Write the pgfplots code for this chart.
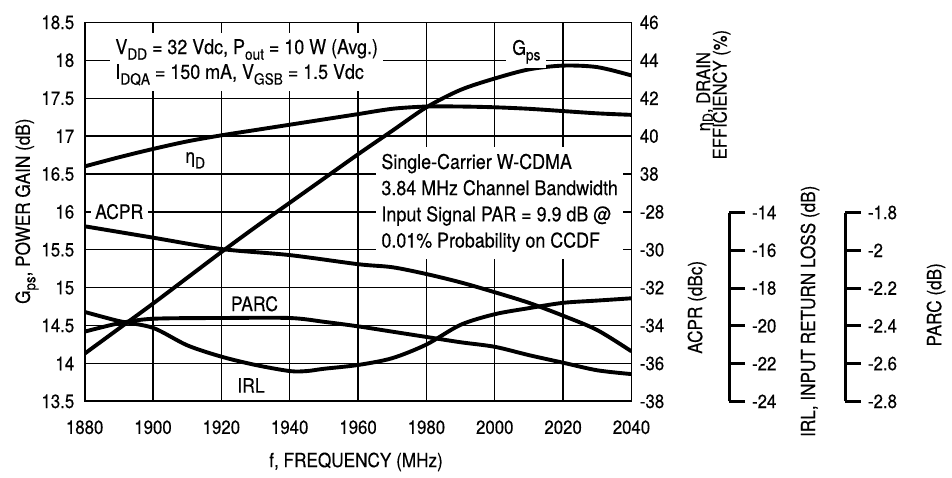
\documentclass[border=0pt]{standalone}
\usepackage{fontspec}
\setmainfont[FakeStretch=0.88, FakeBold=0.3]{TeX Gyre Heros}
\usepackage{pgfplots}
\pgfplotsset{compat=1.18}

\newcommand\lab{\fontsize{9.8}{11}\selectfont}
\newcommand\tks{\fontsize{9.6}{11}\selectfont}
% larger, lower subscripts than \textsubscript
\newcommand\sub[2][7.8]{\raisebox{-0.28em}{\fontsize{#1}{#1}\selectfont #2}}

\pgfplotsset{
  base/.style={
    scale only axis, width=274.5pt, height=190.25pt,
    at={(42.5pt,35pt)}, anchor=south west,
    xmin=1880, xmax=2040,
  },
  curve/.style={black, line width=1.95pt, smooth, mark=none},
  sideaxis/.style={
    scale only axis, width=2pt, height=94.8pt, anchor=south east,
    xmin=0, xmax=1, hide x axis,
    axis y line*=right, ytick pos=right, yticklabel pos=right,
    tick align=outside, major tick length=8pt,
    axis line style={line width=1.5pt},
    major tick style={line width=1.5pt, black},
    yticklabel style={font=\tks},
  },
}

\begin{document}
\begin{tikzpicture}
\path (0,0) rectangle (476pt,236.5pt);

% power gain, grid and frame
\begin{axis}[base, ymin=13.5, ymax=18.5,
    xtick={1880,1900,1920,1940,1960,1980,2000,2020,2040},
    ytick={13.5,14,14.5,15,15.5,16,16.5,17,17.5,18,18.5},
    grid=major, major grid style={line width=0.7pt, black},
    major tick length=0pt,
    axis line style={line width=0.75pt},
    tick label style={font=\tks},
    /pgf/number format/assume math mode=true,
    /pgf/number format/set thousands separator={},
    xticklabel style={yshift=-6pt},
    yticklabel style={xshift=-1.7pt},
  ]
\addplot[curve] coordinates { % Gps
(1880,14.13) (1890,14.46) (1900,14.79) (1910,15.13) (1920,15.47)
(1930,15.80) (1940,16.12) (1950,16.44) (1960,16.76) (1970,17.07)
(1980,17.38) (1990,17.61) (2000,17.76) (2010,17.88) (2020,17.93)
(2030,17.91) (2040,17.80)
};
\draw[line width=1.35pt] (rel axis cs:0,1) -- (rel axis cs:0,0) -- (rel axis cs:1,0);
\end{axis}

% right scale: ACPR (lower) and efficiency (upper)
\begin{axis}[base, ymin=-38, ymax=-18, hide x axis,
    axis y line*=right, ytick pos=right, yticklabel pos=right,
    ytick={-38,-36,-34,-32,-30,-28,-26,-24,-22,-20,-18},
    yticklabels={-38,-36,-34,-32,-30,-28,38,40,42,44,46},
    major tick length=0pt,
    axis line style={line width=0.75pt},
    yticklabel style={font=\tks, xshift=0.7pt},
  ]
\addplot[curve] coordinates { % ACPR
(1880,-28.76) (1900,-29.36) (1920,-29.96) (1940,-30.28) (1960,-30.76)
(1970,-30.92) (1980,-31.28) (1990,-31.72) (2000,-32.24) (2010,-32.80)
(2020,-33.48) (2030,-34.24) (2040,-35.36)
};
\end{axis}

\begin{axis}[base, hide axis, ymin=26, ymax=46]
\addplot[curve] coordinates { % drain efficiency
(1880,38.40) (1890,38.88) (1900,39.32) (1910,39.72) (1920,40.04)
(1930,40.32) (1940,40.60) (1950,40.88) (1960,41.16) (1970,41.44)
(1980,41.56) (1990,41.56) (2000,41.52) (2010,41.44) (2020,41.32)
(2030,41.20) (2040,41.12)
};
\end{axis}

\begin{axis}[base, hide axis, ymin=-24, ymax=-4]
\addplot[curve] coordinates { % IRL
(1880,-19.28) (1890,-19.76) (1900,-20.12) (1910,-21.04) (1920,-21.64)
(1930,-22.08) (1940,-22.40) (1945,-22.40) (1950,-22.28) (1960,-22.08)
(1970,-21.72) (1980,-21.00) (1990,-19.96) (2000,-19.40) (2010,-19.08)
(2020,-18.80) (2030,-18.68) (2040,-18.56)
};
\end{axis}

\begin{axis}[base, hide axis, ymin=-2.8, ymax=-0.8]
\addplot[curve] coordinates { % PARC
(1880,-2.432) (1890,-2.388) (1900,-2.364) (1920,-2.360) (1940,-2.360)
(1950,-2.380) (1960,-2.404) (1970,-2.432) (1980,-2.460) (1990,-2.488)
(2000,-2.512) (2010,-2.556) (2020,-2.596) (2030,-2.636) (2040,-2.656)
};
\end{axis}

% separate IRL and PARC scales
\begin{axis}[sideaxis, at={(366pt,35pt)}, ymin=-24, ymax=-14,
    ytick={-24,-22,-20,-18,-16,-14},
    yticklabels={-24,-22,-20,-18,-16,-14}]
\end{axis}
\begin{axis}[sideaxis, at={(424.2pt,35pt)}, ymin=-2.8, ymax=-1.8,
    ytick={-2.8,-2.6,-2.4,-2.2,-2,-1.8},
    yticklabels={-2.8,-2.6,-2.4,-2.2,-2,-1.8}]
\end{axis}

% axis titles
\node[rotate=90, anchor=base, font=\lab] at (15pt,130.5pt) {G\sub[7.6]{ps}, POWER GAIN (dB)};
\node[anchor=base, font=\lab] at (178.75pt,2pt) {f, FREQUENCY (MHz)};
\node[rotate=90, anchor=base, font=\fontsize{9.5}{11}\selectfont] at (356.5pt,190.5pt)
  {η\raisebox{-1.3pt}{\fontsize{7}{7}\selectfont D}, DRAIN};
\node[rotate=90, anchor=base, font=\fontsize{9.5}{11}\selectfont] at (364.8pt,189pt)
  {EFFICIENCY (\%)};
\node[rotate=90, anchor=base, font=\lab] at (352.5pt,82.25pt) {ACPR (dBc)};
\node[rotate=90, anchor=base, font=\lab] at (409.2pt,80.25pt) {IRL, INPUT RETURN LOSS (dB)};
\node[rotate=90, anchor=base, font=\lab] at (472.5pt,83.5pt) {PARC (dB)};

% annotations
\node[anchor=north west, fill=white, align=left, inner xsep=2.75pt, inner ysep=3pt,
  font=\fontsize{10.2}{12.5}\selectfont] at (55pt,220pt)
  {V\sub{DD} = 32 Vdc, P\sub{out} = 10 W (Avg.)\\
   I\sub{DQA} = 150 mA, V\sub{GSB} = 1.5 Vdc};
\node[anchor=north west, fill=white, align=left, inner xsep=2.8pt, inner ysep=3.5pt,
  font=\fontsize{10.2}{13.15}\selectfont] at (188.5pt,163pt)
  {Single-Carrier W-CDMA\\3.84 MHz Channel Bandwidth\\
   Input Signal PAR = 9.9 dB @\\0.01\% Probability on CCDF};
\node[font=\fontsize{10}{12}\selectfont] at (98pt,156pt) {η\sub{D}};
\node[fill=white, inner xsep=2.25pt, inner ysep=1pt, font=\fontsize{10}{12}\selectfont] at (59.85pt,130.25pt) {ACPR};
\node[font=\fontsize{10}{12}\selectfont] at (127.75pt,84pt) {PARC};
\node[font=\fontsize{10}{12}\selectfont] at (126pt,43pt) {IRL};
\node[anchor=base west, fill=white, inner xsep=3pt, inner ysep=2pt, font=\fontsize{10}{12}\selectfont] at (254pt,209pt) {G\sub{ps}};
\end{tikzpicture}
\end{document}
